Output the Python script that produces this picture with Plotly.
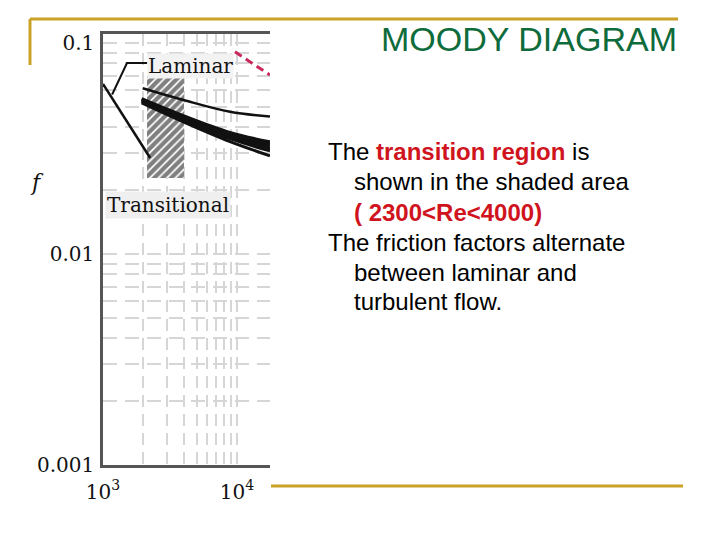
import plotly.graph_objects as go

# ---- data ----
laminar_re = [1000, 2250]
laminar_f = [0.064, 0.0285]

leader_re = [2130, 1510, 1170]
leader_f = [0.0804, 0.0804, 0.057]

thin_re = [1977, 3974, 8870, 17620]
thin_f = [0.0610, 0.0537, 0.0472, 0.0448]

band_re = [1945, 3972, 8870, 17620]
band_a = [0.0545, 0.0453, 0.0377, 0.0340]
band_b = [0.0540, 0.0448, 0.0371, 0.0332]
band_c = [0.0536, 0.0443, 0.0365, 0.0325]
band_d = [0.0532, 0.0437, 0.0358, 0.0316]
band_e = [0.0528, 0.0432, 0.0352, 0.0308]
band_f = [0.0520, 0.0423, 0.0341, 0.0292]

red_re = [9660, 17620]
red_f = [0.0909, 0.0705]

trans_re = [2130, 4020]
trans_f = [0.0229, 0.0690]

x_grid = [2000, 3000, 4000, 5000, 6000, 7000, 8000, 9000, 10000]
y_grid = [0.002, 0.003, 0.004, 0.005, 0.006, 0.007, 0.008, 0.009, 0.01,
          0.02, 0.03, 0.04, 0.05, 0.06, 0.07, 0.08, 0.09, 0.1]
x_tickvals = [1000, 10000]
x_ticktext = ["10<sup>3</sup>", "10<sup>4</sup>"]
y_tickvals = [0.001, 0.01, 0.1]
y_ticktext = ["0.001", "0.01", "0.1"]

text_lines = [
    ("The <b><span style='color:#D0141E'>transition region</span></b> is", 326, 152),
    ("shown in the shaded area", 352, 181),
    ("<b><span style='color:#D0141E'>( 2300&lt;Re&lt;4000)</span></b>", 352, 212),
    ("The friction factors alternate", 326, 243),
    ("between laminar and", 352, 272),
    ("turbulent flow.", 352, 301),
]

W, H = 720, 540
GOLD = "#C9A227"
SERIF = "DejaVu Serif"

fig = go.Figure()

# transition (hatched) region
fig.add_trace(go.Scatter(
    x=[trans_re[0], trans_re[1], trans_re[1], trans_re[0], trans_re[0]],
    y=[trans_f[0], trans_f[0], trans_f[1], trans_f[1], trans_f[0]],
    mode="lines", line=dict(width=0), fill="toself",
    fillcolor="white",
    fillpattern=dict(shape="/", fgcolor="#000000", bgcolor="white",
                     size=6, solidity=0.7),
    hoverinfo="skip", showlegend=False))

fig.add_trace(go.Scatter(x=laminar_re, y=laminar_f, mode="lines",
                         line=dict(color="#111111", width=2.5), showlegend=False))
fig.add_trace(go.Scatter(x=leader_re, y=leader_f, mode="lines",
                         line=dict(color="#111111", width=2), showlegend=False))
fig.add_trace(go.Scatter(x=thin_re, y=thin_f, mode="lines",
                         line=dict(color="#111111", width=2.5, shape="spline"),
                         showlegend=False))
for ys in (band_a, band_b, band_c, band_d, band_e, band_f):
    fig.add_trace(go.Scatter(x=band_re, y=ys, mode="lines",
                             line=dict(color="#111111", width=3, shape="spline"),
                             showlegend=False))
fig.add_trace(go.Scatter(x=red_re, y=red_f, mode="lines",
                         line=dict(color="#C8285A", width=3, dash="8px,5px"),
                         showlegend=False))

# plot area in pixels
x0p, x1p, y0p, y1p = 103, 270, 34, 465

fig.update_layout(
    width=W, height=H,
    margin=dict(l=0, r=0, t=0, b=0, autoexpand=False),
    paper_bgcolor="white", plot_bgcolor="white",
    showlegend=False,
    xaxis=dict(
        type="log", range=[3, 3 + (x1p - x0p) / 134],
        domain=[x0p / W, x1p / W], automargin=False,
        showgrid=False, zeroline=False,
        showline=True, linecolor="#555555", linewidth=2.5, mirror=True,
        tickvals=x_tickvals, ticktext=x_ticktext,
        ticks="outside", ticklen=7, tickcolor="rgba(0,0,0,0)",
        tickfont=dict(family=SERIF, size=20, color="#111111"),
        minor=dict(tickvals=x_grid, showgrid=True, gridcolor="#d6d6d6",
                   gridwidth=2, griddash="12px,7px", ticks=""),
    ),
    yaxis=dict(
        type="log", range=[-3, -1 + (43 - y0p) / 211],
        domain=[1 - y1p / H, 1 - y0p / H], automargin=False,
        showgrid=False, zeroline=False,
        showline=True, linecolor="#555555", linewidth=2.5, mirror=False,
        tickvals=y_tickvals, ticktext=y_ticktext,
        ticks="outside", ticklen=2, tickcolor="rgba(0,0,0,0)",
        tickfont=dict(family=SERIF, size=20, color="#111111"),
        minor=dict(tickvals=y_grid, showgrid=True, gridcolor="#d6d6d6",
                   gridwidth=2, griddash="14px,8px", ticks=""),
    ),
)

annotations = [
    dict(text="MOODY DIAGRAM", x=679 / W, y=1 - 39 / H, xref="paper", yref="paper",
         xanchor="right", yanchor="middle", showarrow=False,
         font=dict(family="Arial, Liberation Sans", size=34, color="#0E6B3B")),
    dict(text="Laminar", x=190 / W, y=1 - 66 / H, xref="paper", yref="paper",
         xanchor="center", yanchor="middle", showarrow=False, bgcolor="#f2f2f2",
         borderpad=0,
         font=dict(family=SERIF, size=20, color="#111111")),
    dict(text="Transitional", x=168 / W, y=1 - 205 / H, xref="paper", yref="paper",
         xanchor="center", yanchor="middle", showarrow=False, bgcolor="#efefef",
         borderpad=1,
         font=dict(family=SERIF, size=20, color="#111111")),
    dict(text="<i>f</i>", x=37 / W, y=1 - 182 / H, xref="paper", yref="paper",
         xanchor="center", yanchor="middle", showarrow=False,
         font=dict(family=SERIF, size=22, color="#111111")),
]
for txt, px, py in text_lines:
    annotations.append(dict(text=txt, x=px / W, y=1 - py / H, xref="paper", yref="paper",
                            xanchor="left", yanchor="middle", showarrow=False,
                            font=dict(family="Arial, Liberation Sans", size=24, color="#000000")))
fig.update_layout(annotations=annotations)

shapes = [
    dict(type="line", xref="paper", yref="paper", x0=30 / W, x1=678 / W,
         y0=1 - 19 / H, y1=1 - 19 / H, line=dict(color=GOLD, width=3)),
    dict(type="line", xref="paper", yref="paper", x0=30 / W, x1=30 / W,
         y0=1 - 19 / H, y1=1 - 65 / H, line=dict(color=GOLD, width=3)),
    dict(type="line", xref="paper", yref="paper", x0=271 / W, x1=683 / W,
         y0=1 - 486 / H, y1=1 - 486 / H, line=dict(color=GOLD, width=3)),
]
fig.update_layout(shapes=shapes)

fig.write_html("out.html")
